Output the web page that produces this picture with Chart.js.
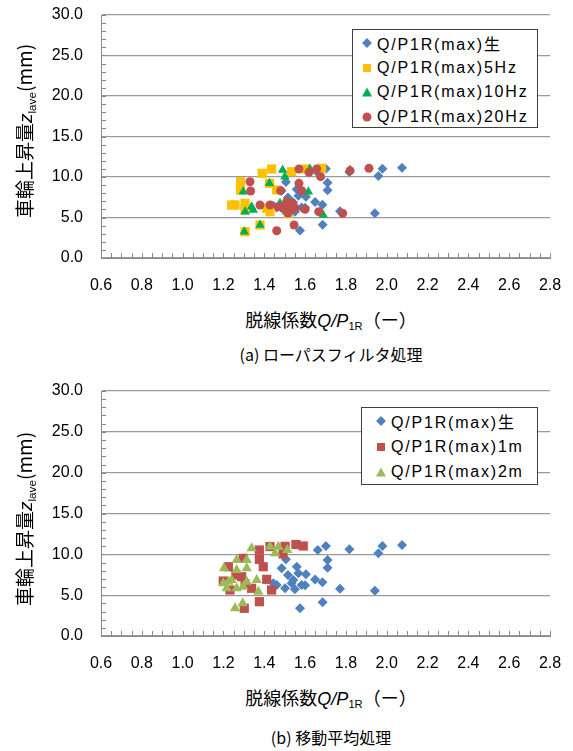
<!DOCTYPE html>
<html>
<head>
<meta charset="utf-8">
<script src="https://cdn.jsdelivr.net/npm/chart.js@4.4.0/dist/chart.umd.min.js"></script>
<style>
  body { margin: 0; background: #fff; width: 573px; height: 751px; position: relative; overflow: hidden; color: #000;
         font-family: 'Liberation Sans', 'Noto Sans CJK JP', sans-serif; }
  canvas { position: absolute; left: 0; }
  .t { position: absolute; transform: translate(-50%, -50%); white-space: nowrap; }
  .ytitle { position: absolute; transform: translate(-50%, -50%) rotate(-90deg); white-space: nowrap;
            font-family: 'Noto Sans CJK JP', sans-serif; font-size: 19px; }
  .xtitle { font-family: 'Noto Sans CJK JP', sans-serif; font-size: 18px; }
  .cap { font-family: 'Noto Sans CJK JP', sans-serif; font-size: 16px; }
  .lat { font-family: 'Liberation Sans', sans-serif; }
  sub { font-size: 0.62em; vertical-align: -0.35em; font-family: 'Liberation Sans', sans-serif; }
  .legend { position: absolute; background: #fff; border: 1px solid #404040; }
  .row { position: absolute; left: 0; transform: translateY(-50%); white-space: nowrap; font-size: 16px; letter-spacing: 1.8px;
         font-family: 'Liberation Sans', 'Noto Sans CJK JP', sans-serif; }
  .mk { position: absolute; top: 50%; transform: translate(-50%, -50%); }
  .dia { width: 7px; height: 7px; transform: translate(-50%, -50%) rotate(45deg); }
  .sq { width: 8px; height: 8px; }
  .ci { width: 9px; height: 9px; border-radius: 50%; }
  .tri { width: 0; height: 0; border-left: 5px solid transparent; border-right: 5px solid transparent; border-bottom: 9px solid; }
</style>
</head>
<body>
<canvas id="chartA" width="573" height="300" style="top:0"></canvas>
<canvas id="chartB" width="573" height="300" style="top:376px"></canvas>

<div class="ytitle" style="left:24px;top:131px">車輪上昇量<i class="lat">z</i><sub>lave</sub>(mm)</div>
<div class="t xtitle" style="left:331px;top:319px">脱線係数<i class="lat">Q/P</i><sub>1R</sub>（ー）</div>
<div class="t cap" style="left:331px;top:354px">(a) ローパスフィルタ処理</div>

<div class="ytitle" style="left:24px;top:519px">車輪上昇量<i class="lat">z</i><sub>lave</sub>(mm)</div>
<div class="t xtitle" style="left:331px;top:697px">脱線係数<i class="lat">Q/P</i><sub>1R</sub>（ー）</div>
<div class="t cap" style="left:331px;top:737px">(b) 移動平均処理</div>

<div class="legend" style="left:352px;top:29px;width:184px;height:97px">
  <div class="row" style="top:13px"><span class="mk dia" style="left:14px;background:#4F81BD"></span><span style="margin-left:24px">Q/P1R(max)生</span></div>
  <div class="row" style="top:38px"><span class="mk sq" style="left:14px;background:#FFC000"></span><span style="margin-left:24px">Q/P1R(max)5Hz</span></div>
  <div class="row" style="top:62px"><span class="mk tri" style="left:14px;border-bottom-color:#00B050"></span><span style="margin-left:24px">Q/P1R(max)10Hz</span></div>
  <div class="row" style="top:87px"><span class="mk ci" style="left:14px;background:#C0504D"></span><span style="margin-left:24px">Q/P1R(max)20Hz</span></div>
</div>

<div class="legend" style="left:361px;top:407px;width:175px;height:76px">
  <div class="row" style="top:13px"><span class="mk dia" style="left:19px;background:#4F81BD"></span><span style="margin-left:29px">Q/P1R(max)生</span></div>
  <div class="row" style="top:39px"><span class="mk sq" style="left:19px;background:#C0504D"></span><span style="margin-left:29px">Q/P1R(max)1m</span></div>
  <div class="row" style="top:64px"><span class="mk tri" style="left:19px;border-bottom-color:#9BBB59"></span><span style="margin-left:29px">Q/P1R(max)2m</span></div>
</div>

<script>
// raw Q/P1R(max) — same in both panels
const rawX = [1.662, 1.702, 1.817, 1.959, 1.979, 2.075, 1.710, 1.710, 1.506, 1.485, 1.559, 1.604, 1.649, 1.685,
  1.771, 1.942, 1.600, 1.542, 1.516, 1.461, 1.502, 1.534, 1.550, 1.583, 1.567, 1.575, 1.686, 1.444];
const rawY = [10.53, 11.02, 10.61, 10.12, 11.02, 11.14, 9.30, 8.36, 9.39, 8.29, 8.48, 7.55, 6.92, 6.57,
  5.78, 5.54, 6.21, 6.85, 7.47, 6.24, 5.84, 6.45, 5.72, 6.24, 7.67, 3.39, 4.12, 6.45];

// (a) low-pass filter
const lp5X = [1.436, 1.390, 1.284, 1.284, 1.425, 1.461, 1.257, 1.306, 1.306, 1.412, 1.379, 1.306, 1.534, 1.604,
  1.681, 1.518, 1.428, 1.240];
const lp5Y = [10.99, 10.46, 9.42, 8.40, 9.22, 8.40, 6.54, 6.75, 5.93, 6.14, 4.07, 3.25, 10.65, 10.99,
  11.07, 5.52, 5.72, 6.54];

const lp10X = [1.490, 1.501, 1.624, 1.425, 1.297, 1.616, 1.306, 1.338, 1.346, 1.477, 1.526, 1.689, 1.379, 1.302,
  1.820, 1.510];
const lp10Y = [10.86, 10.04, 10.99, 9.22, 8.19, 8.19, 5.72, 6.33, 5.93, 6.75, 6.54, 5.31, 4.07, 3.25,
  10.86, 5.72];

const lp20X = [1.570, 1.619, 1.657, 1.676, 1.570, 1.330, 1.333, 1.480, 1.583, 1.379, 1.428, 1.469, 1.493, 1.510,
  1.526, 1.600, 1.667, 1.784, 1.820, 1.913, 1.461, 1.546, 1.536, 1.551, 1.516];
const lp20Y = [10.99, 10.58, 10.99, 10.04, 9.22, 9.42, 8.27, 8.31, 8.31, 6.54, 6.54, 6.33, 6.14, 6.95,
  5.93, 6.01, 5.72, 5.52, 10.78, 11.07, 3.37, 4.07, 6.79, 6.17, 5.56];

// (b) moving average
const ma1X = [1.376, 1.428, 1.502, 1.555, 1.591, 1.376, 1.395, 1.297, 1.224, 1.289, 1.412, 1.436, 1.199, 1.338,
  1.376, 1.302, 1.492, 1.232, 1.306, 1.261];
const ma1Y = [10.53, 10.95, 10.98, 11.20, 11.02, 9.39, 8.48, 9.51, 8.48, 7.26, 6.94, 5.63, 6.73, 5.84,
  4.20, 3.39, 10.04, 5.63, 6.36, 7.47];

const ma2X = [1.338, 1.428, 1.469, 1.513, 1.453, 1.265, 1.314, 1.203, 1.265, 1.314, 1.240, 1.199, 1.314, 1.363,
  1.216, 1.265, 1.297, 1.371, 1.257, 1.294, 1.224];
const ma2Y = [10.73, 10.93, 10.93, 10.53, 10.12, 9.30, 9.30, 8.29, 8.08, 8.29, 6.85, 6.45, 6.65, 6.85,
  5.84, 5.84, 6.03, 5.42, 3.39, 4.00, 6.65];

const X_MIN = 0.6, X_MAX = 2.8, X_STEP = 0.2;
const Y_MIN = 0, Y_MAX = 30, Y_STEP = 5;

const pts = (xs, ys) => xs.map((x, i) => ({ x, y: ys[i] }));

const series = (label, xs, ys, style, color, radius, order) => ({
  label,
  data: pts(xs, ys),
  pointStyle: style,
  pointRadius: radius,
  pointHoverRadius: radius,
  backgroundColor: color,
  borderColor: color,
  borderWidth: 0,
  showLine: false,
  order,
});

// inward minor tick marks, like the spreadsheet original
const minorTicks = {
  id: 'minorTicks',
  beforeDatasetsDraw(chart) {
    const { ctx, chartArea: a, scales: { x, y } } = chart;
    ctx.save();
    ctx.strokeStyle = '#888';
    ctx.lineWidth = 1;
    ctx.beginPath();
    for (let v = Y_MIN; v <= Y_MAX + 1e-9; v += 1) {
      const py = Math.round(y.getPixelForValue(v)) + 0.5;
      ctx.moveTo(a.left, py);
      ctx.lineTo(a.left + 5, py);
    }
    for (let i = 0; i <= Math.round((X_MAX - X_MIN) / 0.05); i++) {
      const px = Math.round(x.getPixelForValue(X_MIN + i * 0.05)) + 0.5;
      ctx.moveTo(px, a.bottom);
      ctx.lineTo(px, a.bottom - 5);
    }
    ctx.stroke();
    ctx.restore();
  },
};

function makeChart(id, datasets, bottomH) {
  return new Chart(document.getElementById(id), {
    type: 'scatter',
    data: { datasets },
    options: {
      responsive: false,
      animation: false,
      layout: { padding: { top: 15, right: 23, left: 0, bottom: 0 } },
      plugins: { legend: { display: false }, tooltip: { enabled: false } },
      scales: {
        x: {
          type: 'linear', min: X_MIN, max: X_MAX,
          afterFit: (s) => { s.height = bottomH; s.paddingLeft = 0; s.paddingRight = 0; },
          ticks: { stepSize: X_STEP, padding: 10, color: '#000', font: { family: 'Liberation Sans', size: 16 },
                   callback: (v) => v.toFixed(1) },
          grid: { display: false },
          border: { display: true, color: '#888', width: 1 },
        },
        y: {
          min: Y_MIN, max: Y_MAX,
          afterFit: (s) => { s.width = 101; s.paddingTop = 0; s.paddingBottom = 0; },
          ticks: { stepSize: Y_STEP, padding: 18, color: '#000', font: { family: 'Liberation Sans', size: 16 },
                   callback: (v) => v.toFixed(1) },
          grid: { color: '#9a9a9a', lineWidth: 1.3, drawTicks: false },
          border: { display: true, color: '#888', width: 1 },
        },
      },
    },
    plugins: [minorTicks],
  });
}

makeChart('chartA', [
  series('Q/P1R(max)生', rawX, rawY, 'rectRot', '#4F81BD', 5, 4),
  series('Q/P1R(max)5Hz', lp5X, lp5Y, 'rect', '#FFC000', 6.5, 3),
  series('Q/P1R(max)10Hz', lp10X, lp10Y, 'triangle', '#00B050', 5.5, 2),
  series('Q/P1R(max)20Hz', lp20X, lp20Y, 'circle', '#C0504D', 4.5, 1),
], 42);

makeChart('chartB', [
  series('Q/P1R(max)生', rawX, rawY, 'rectRot', '#4F81BD', 5, 3),
  series('Q/P1R(max)1m', ma1X, ma1Y, 'rect', '#C0504D', 6.5, 2),
  series('Q/P1R(max)2m', ma2X, ma2Y, 'triangle', '#9BBB59', 6, 1),
], 40);
</script>
</body>
</html>
